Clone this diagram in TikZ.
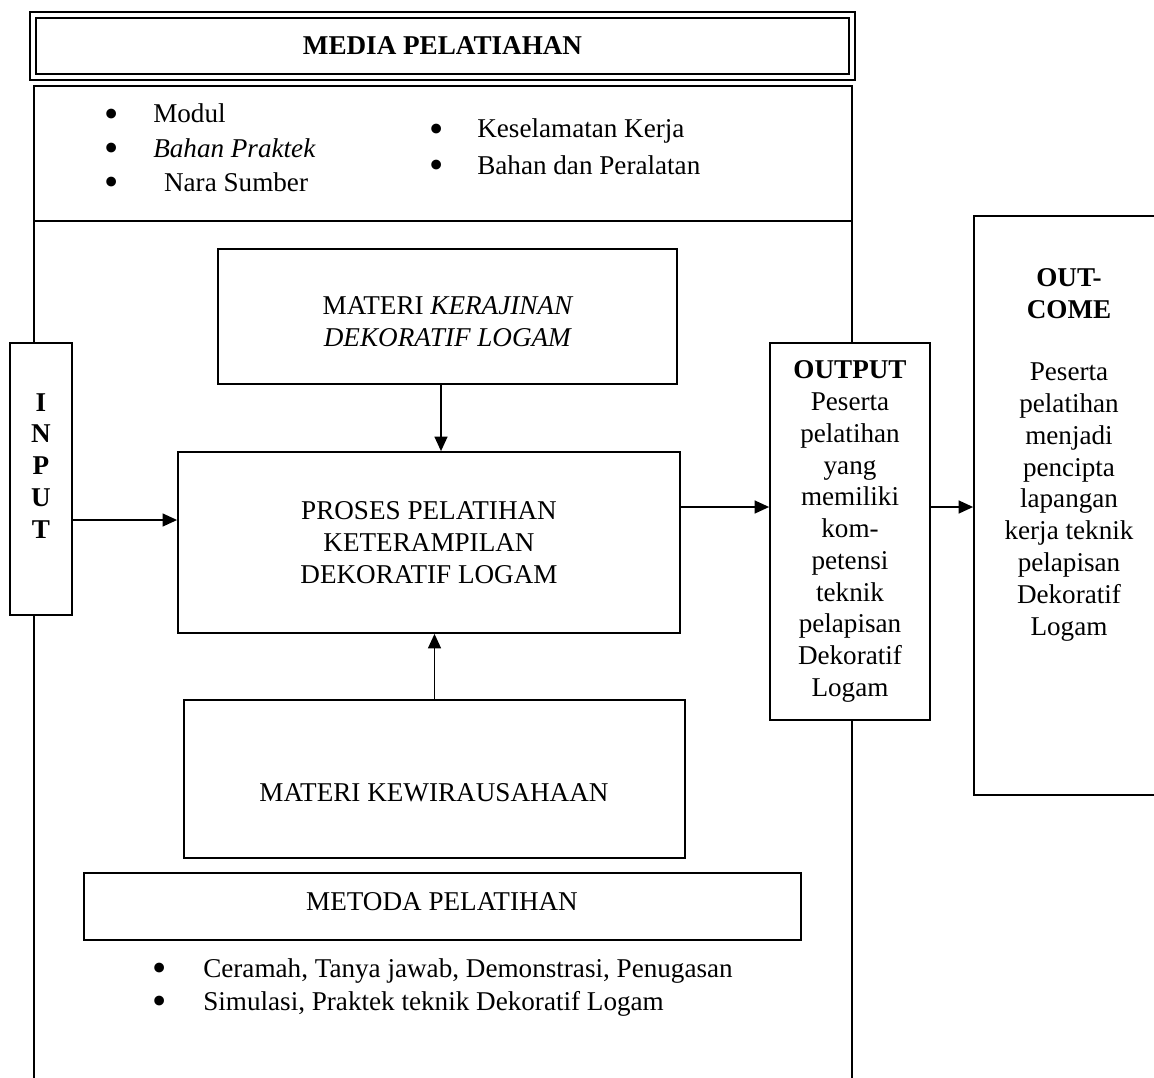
\documentclass[tikz,border=0pt]{standalone}
\usepackage{fontspec}
\setmainfont{Liberation Serif}
\usetikzlibrary{arrows.meta,positioning}
\newcommand{\bul}{\smash{\raisebox{-0.17em}{\scalebox{1.5}{\textbullet}}}}
\tikzset{
  box/.style={draw, line width=1.2pt, fill=white, inner sep=0pt, align=center},
  lbl/.style={inner sep=0pt, align=center},
  itm/.style={inner sep=0pt, anchor=base west},
  arr/.style={-{Triangle[length=0.36cm,width=0.32cm]}, line width=1.2pt},
  txt/.style={font=\fontsize{19.3}{22.6}\selectfont}
}
\begin{document}
\begin{tikzpicture}[x=0.025cm,y=-0.025cm,every node/.style={txt}]
\useasboundingbox (0,0) rectangle (1154,1077);
\clip (0,0) rectangle (1154,1077);
\node[draw, double, double distance=0.1cm, line width=1.2pt, minimum width=20.475cm, minimum height=1.55cm] (title) at (442.5,46) {\textbf{MEDIA PELATIAHAN}};
\draw[line width=1.2pt] (34,1100) -- (34,86) -- (852,86) -- (852,1100);
\draw[line width=1.2pt] (34,221) -- (852,221);
\node[itm] (m1) at (104,123) {\makebox[1.225cm][l]{\bul}Modul};
\node[itm] (m2) at (104,157) {\makebox[1.225cm][l]{\bul}\textit{Bahan Praktek}};
\node[itm] (m3) at (104,191) {\makebox[1.225cm][l]{\bul}\hspace{0.27cm}Nara Sumber};
\node[itm] (m4) at (429,138) {\makebox[1.2cm][l]{\bul}Keselamatan Kerja};
\node[itm] (m5) at (429,174) {\makebox[1.2cm][l]{\bul}Bahan dan Peralatan};
\node[box, minimum width=11.475cm, minimum height=3.375cm] (mat) at (447.5,316.5) {};
\node[lbl] (matT) at (448,322) {MATERI \textit{KERAJINAN}\\\textit{DEKORATIF LOGAM}};
\node[box, minimum width=12.55cm, minimum height=4.525cm] (proc) at (429,542.5) {PROSES PELATIHAN\\KETERAMPILAN\\DEKORATIF LOGAM};
\node[box, minimum width=12.525cm, minimum height=3.95cm] (kwu) at (434.5,779) {};
\node[lbl] (kwuT) at (434,793) {MATERI KEWIRAUSAHAAN};
\node[box, minimum width=17.925cm, minimum height=1.675cm] (met) at (442.5,906.5) {};
\node[lbl] (metT) at (442,902) {METODA PELATIHAN};
\node[itm] (k1) at (152,977) {\makebox[1.275cm][l]{\bul}Ceramah, Tanya jawab, Demonstrasi, Penugasan};
\node[itm] (k2) at (152,1010) {\makebox[1.275cm][l]{\bul}Simulasi, Praktek teknik Dekoratif Logam};
\node[box, minimum width=1.55cm, minimum height=6.8cm] (inp) at (41,479) {};
\node[lbl, font=\fontsize{19.3}{22.7}\selectfont\bfseries] (inpT) at (41,466) {I\\N\\P\\U\\T};
\node[box, minimum width=4cm, minimum height=9.425cm] (outp) at (850,531.5) {\textbf{OUTPUT}\\Peserta\\pelatihan\\yang\\memiliki\\kom-\\petensi\\teknik\\pelapisan\\Dekoratif\\Logam};
\node[box, minimum width=4.75cm, minimum height=14.475cm] (outc) at (1069,505.5) {};
\node[lbl, anchor=north] (outcT) at (1069,268) {\textbf{OUT-}\\\textbf{COME}\\[0.775cm]Peserta\\pelatihan\\menjadi\\pencipta\\lapangan\\kerja teknik\\pelapisan\\Dekoratif\\Logam};
\coordinate (rowin) at (0,520);
\coordinate (rowout) at (0,507);
\coordinate (colmat) at (441,0);
\draw[arr] (inp.east |- rowin) -- (proc.west |- rowin);
\draw[arr] (proc.east |- rowout) -- (outp.west |- rowout);
\draw[arr] (outp.east |- rowout) -- (outc.west |- rowout);
\draw[arr] (mat.south -| colmat) -- (proc.north -| colmat);
\draw[arr] (kwu.north) -- (kwu.north |- proc.south);
\end{tikzpicture}
\end{document}
